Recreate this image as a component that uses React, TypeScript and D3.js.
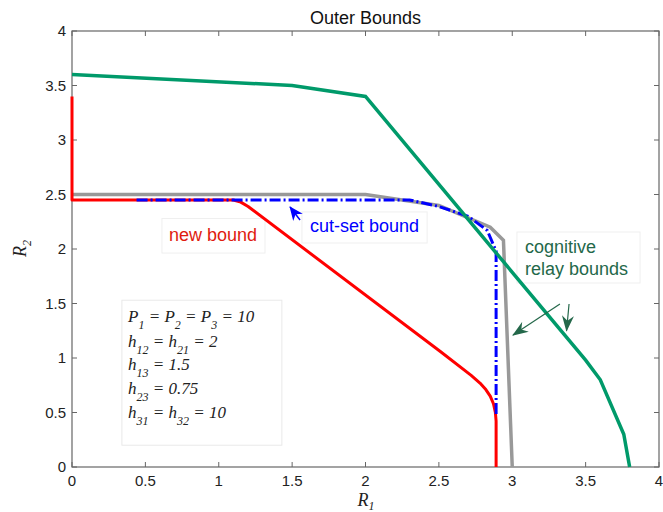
import React from "react";
import * as d3 from "d3";

const W = 663;
const H = 512;
const M = { top: 31, right: 4, bottom: 45, left: 72 };

const xTicks = [0, 0.5, 1, 1.5, 2, 2.5, 3, 3.5, 4];
const yTicks = [0, 0.5, 1, 1.5, 2, 2.5, 3, 3.5, 4];

// cognitive relay bounds (outer, green)
const relayOuterR1 = [0, 1.5, 2, 3.5, 3.6, 3.76, 3.8];
const relayOuterR2 = [3.6, 3.5, 3.4, 0.98, 0.8, 0.3, 0];
// cognitive relay bounds (inner, gray)
const relayInnerR1 = [0, 2, 2.5, 2.85, 2.94, 3.0];
const relayInnerR2 = [2.5, 2.5, 2.4, 2.2, 2.08, 0];
// cut-set bound (blue dash-dot)
const cutSetR1 = [0.44, 2.3, 2.5, 2.7, 2.83, 2.89, 2.89];
const cutSetR2 = [2.45, 2.45, 2.39, 2.3, 2.17, 1.98, 0.48];
// new bound (red)
const newBoundR1 = [0, 0, 1.1, 1.15, 1.2, 2.51, 2.72, 2.78, 2.82, 2.85, 2.872, 2.885, 2.89, 2.89];
const newBoundR2 = [3.4, 2.45, 2.45, 2.43, 2.39, 1.06, 0.84, 0.77, 0.71, 0.65, 0.58, 0.5, 0.42, 0];

const paramLines = [
  "P_{1} = P_{2} = P_{3} = 10",
  "h_{12} = h_{21} = 2",
  "h_{13} = 1.5",
  "h_{23} = 0.75",
  "h_{31} = h_{32} = 10",
];

const SANS = "Arial, 'Liberation Sans', Helvetica, sans-serif";
const SERIF = "'Times New Roman', 'Liberation Serif', 'DejaVu Serif', serif";

const x = d3.scaleLinear().domain([0, 4]).range([M.left, W - M.right]);
const y = d3.scaleLinear().domain([0, 4]).range([H - M.bottom, M.top]);

const line = d3
  .line<[number, number]>()
  .x((d) => x(d[0]))
  .y((d) => y(d[1]));

const zip = (a: number[], b: number[]) => a.map((v, i) => [v, b[i]] as [number, number]);

// split "h_{12} = 2" into normal / subscript pieces
function texPieces(s: string) {
  const out: { t: string; sub: boolean }[] = [];
  const re = /_\{([^}]*)\}/g;
  let last = 0;
  let m;
  while ((m = re.exec(s))) {
    if (m.index > last) out.push({ t: s.slice(last, m.index), sub: false });
    out.push({ t: m[1], sub: true });
    last = re.lastIndex;
  }
  if (last < s.length) out.push({ t: s.slice(last), sub: false });
  return out;
}

function TexText({ s, size, subSize, shift }: { s: string; size: number; subSize: number; shift: number }) {
  const parts = texPieces(s);
  let down = false;
  return (
    <>
      {parts.map((p, i) => {
        let dy = 0;
        if (p.sub && !down) {
          dy = shift;
          down = true;
        } else if (!p.sub && down) {
          dy = -shift;
          down = false;
        }
        return (
          <tspan key={i} dy={dy} fontSize={p.sub ? subSize : size}>
            {p.t.replace(/ /g, "\u00a0")}
          </tspan>
        );
      })}
    </>
  );
}

const App = () => {
  const green = "#009a6a";
  const darkGreen = "#24684a";
  const axisCol = "#666";
  const x0 = x(0), x1 = x(4), y0 = y(0), y1 = y(4);

  return (
    <svg width={W} height={H} style={{ position: "absolute", left: 0, top: 0, background: "#fff" }}>
      <defs>
        <marker id="blueHead" markerUnits="userSpaceOnUse" markerWidth="14" markerHeight="12"
          viewBox="0 0 14 12" refX="13" refY="6" orient="auto">
          <path d="M0,0 L14,6 L0,12 L4,6 Z" fill="#0000ff" />
        </marker>
        <marker id="greenHead" markerUnits="userSpaceOnUse" markerWidth="16" markerHeight="12"
          viewBox="0 0 16 12" refX="15" refY="6" orient="auto">
          <path d="M0,0 L16,6 L0,12 L5,6 Z" fill={darkGreen} />
        </marker>
      </defs>

      <rect x={0} y={0} width={W} height={H} fill="#fff" />

      {/* axes frame */}
      <rect x={x0} y={y1} width={x1 - x0} height={y0 - y1} fill="none" stroke={axisCol} strokeWidth={1.2} />
      {xTicks.map((t) => (
        <g key={"xt" + t}>
          <line x1={x(t)} x2={x(t)} y1={y0} y2={y0 - 5} stroke={axisCol} />
          <line x1={x(t)} x2={x(t)} y1={y1} y2={y1 + 5} stroke={axisCol} />
          <text x={x(t)} y={y0 + 19} textAnchor="middle" fontFamily={SANS} fontSize={15} fill="#222">
            {t}
          </text>
        </g>
      ))}
      {yTicks.map((t) => (
        <g key={"yt" + t}>
          <line x1={x0} x2={x0 + 5} y1={y(t)} y2={y(t)} stroke={axisCol} />
          <line x1={x1} x2={x1 - 5} y1={y(t)} y2={y(t)} stroke={axisCol} />
          <text x={x0 - 6} y={y(t) + 5} textAnchor="end" fontFamily={SANS} fontSize={15} fill="#222">
            {t}
          </text>
        </g>
      ))}

      {/* annotation boxes */}
      <rect x={x(0.34)} y={y(1.53)} width={x(1.43) - x(0.34)} height={y(0.2) - y(1.53)}
        fill="#fff" stroke="#e9e9e9" />
      <rect x={x(0.613)} y={y(2.28)} width={x(1.315) - x(0.613)} height={y(1.963) - y(2.28)}
        fill="#fff" stroke="#efefef" />
      <rect x={x(1.567)} y={y(2.34)} width={x(2.42) - x(1.567)} height={y(2.055) - y(2.34)}
        fill="#fff" stroke="#efefef" />
      <rect x={x(3.032)} y={y(2.156)} width={x(3.871) - x(3.032)} height={y(1.688) - y(2.156)}
        fill="#fff" stroke="#efefef" />

      {/* curves */}
      <path d={line(zip(relayInnerR1, relayInnerR2)) || ""} fill="none" stroke="#999" strokeWidth={3.5} />
      <path d={line(zip(newBoundR1, newBoundR2)) || ""} fill="none" stroke="#ff0000" strokeWidth={3}
        strokeLinejoin="round" />
      <path d={line(zip(cutSetR1, cutSetR2)) || ""} fill="none" stroke="#0000ff" strokeWidth={3}
        strokeDasharray="11,3,2,3" />
      <path d={line(zip(relayOuterR1, relayOuterR2)) || ""} fill="none" stroke={green} strokeWidth={3.5} />

      {/* title & axis labels */}
      <text x={(x0 + x1) / 2} y={24} textAnchor="middle" fontFamily={SANS} fontSize={18} fill="#111">
        Outer Bounds
      </text>
      <text x={(x0 + x1) / 2 - 8} y={506} fontFamily={SERIF} fontStyle="italic" fontSize={18} fill="#222">
        <TexText s="R_{1}" size={18} subSize={12} shift={4} />
      </text>
      <text transform={`translate(26,${(y0 + y1) / 2 + 8}) rotate(-90)`} fontFamily={SERIF}
        fontStyle="italic" fontSize={18} fill="#222">
        <TexText s="R_{2}" size={18} subSize={12} shift={5} />
      </text>

      {/* annotations */}
      <text x={x(0.661)} y={y(2.07)} fontFamily={SANS} fontSize={18} fill="#e01b10">new bound</text>
      <text x={x(1.622)} y={y(2.16)} fontFamily={SANS} fontSize={18} fill="#0000ff">cut-set bound</text>
      <line x1={x(1.554)} y1={y(2.266)} x2={x(1.486)} y2={y(2.385)} stroke="#0000ff" strokeWidth={1.5}
        markerEnd="url(#blueHead)" />
      <text fontFamily={SANS} fontSize={18} fill={darkGreen}>
        <tspan x={x(3.087)} y={y(1.963)}>cognitive</tspan>
        <tspan x={x(3.087)} y={y(1.761)}>relay bounds</tspan>
      </text>
      <line x1={x(3.325)} y1={y(1.495)} x2={x(3.005)} y2={y(1.21)} stroke={darkGreen} strokeWidth={1.2}
        markerEnd="url(#greenHead)" />
      <line x1={x(3.387)} y1={y(1.495)} x2={x(3.37)} y2={y(1.25)} stroke={darkGreen} strokeWidth={1.2}
        markerEnd="url(#greenHead)" />

      {/* parameter box */}
      {paramLines.map((s, i) => (
        <text key={s} x={x(0.382)} y={[322, 346.5, 370, 393.5, 418][i]} fontFamily={SERIF}
          fontStyle="italic" fontSize={17} fill="#222">
          <TexText s={s} size={17} subSize={12} shift={7} />
        </text>
      ))}
    </svg>
  );
};

export default App;
